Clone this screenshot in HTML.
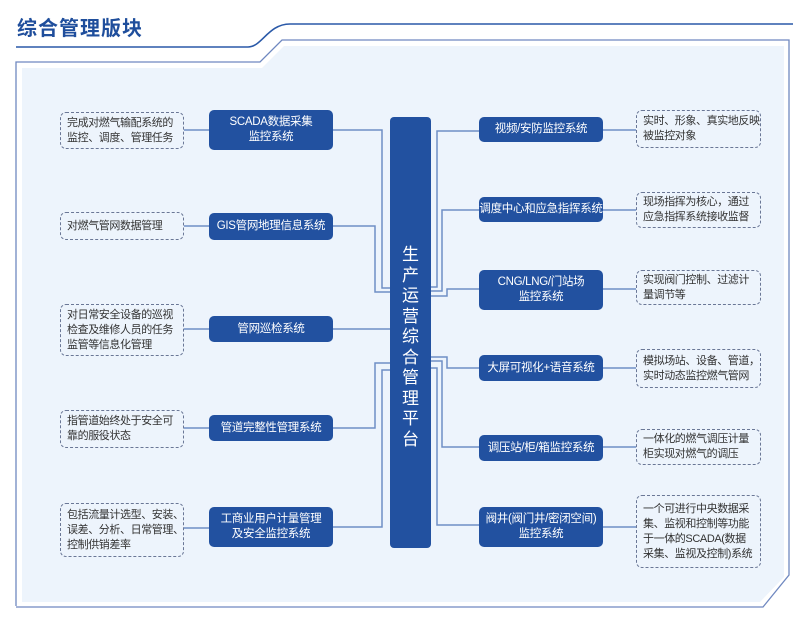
<!DOCTYPE html>
<html><head><meta charset="utf-8"><style>
*{margin:0;padding:0;box-sizing:border-box}
body{width:800px;height:620px;background:#fff;position:relative;overflow:hidden;font-family:"Liberation Sans","Noto Sans CJK SC",sans-serif}
.t{position:absolute;left:17px;top:12px;font-size:20px;font-weight:bold;color:#1f4e9c;letter-spacing:1px}
.n{position:absolute;background:#2251a0;color:#fff;border-radius:5px;font-size:11.5px;line-height:15px;display:flex;align-items:center;justify-content:center;text-align:center;white-space:nowrap;letter-spacing:-0.3px}
.d{position:absolute;border:1.3px dashed #6a7796;border-radius:6px;font-size:11px;line-height:15px;color:#333;padding:0 0 0 6px;display:flex;align-items:center;white-space:nowrap;letter-spacing:-0.4px}
.bar{position:absolute;left:390px;top:117px;width:41px;height:431px;background:#2251a0;border-radius:4px;color:#fff;font-size:17px;line-height:20.5px;text-align:center;padding-top:128px}
</style></head><body>
<svg width="800" height="620" style="position:absolute;left:0;top:0">
<path d="M22 68 L262 68 L284 46 L784 46 L784 577 L760 602 L22 602 Z" fill="#edf4fc"/>
<path d="M16 47 L248 47 C262 47 268 24 290 24 L793 24" fill="none" stroke="#2a59a8" stroke-width="1.6"/>
<path d="M16 606 L16 62 L260 62 L282 40 L789 40 L789 575 L763 607 L16 607" fill="none" stroke="#6f88c0" stroke-width="1.3"/>
<g fill="none" stroke="#6f8fc5" stroke-width="1.5">
<path d="M333 130 H382 V288 H390"/>
<path d="M333 226 H375 V292 H390"/>
<path d="M333 329 H390"/>
<path d="M333 428 H375 V363 H390"/>
<path d="M333 527 H382 V370 H390"/>
<path d="M431 287 H437 V131 H479"/>
<path d="M431 291 H442 V210 H479"/>
<path d="M431 296 H447 V289 H479"/>
<path d="M431 357 H447 V368 H479"/>
<path d="M431 361 H442 V447 H479"/>
<path d="M431 368 H437 V525 H479"/>
<path d="M184 130 H209 M184 226 H209 M184 329 H209 M184 428 H209 M184 528 H209"/>
<path d="M603 130 H636 M603 210 H636 M603 289 H636 M603 368 H636 M603 447 H636 M603 527 H636"/>
</g>
</svg>
<div class="t">综合管理版块</div>
<div class="bar">生<br>产<br>运<br>营<br>综<br>合<br>管<br>理<br>平<br>台</div>

<div class="n" style="left:209px;top:110px;width:124px;height:40px">SCADA数据采集<br>监控系统</div>
<div class="n" style="left:209px;top:213px;width:124px;height:27px">GIS管网地理信息系统</div>
<div class="n" style="left:209px;top:316px;width:124px;height:26px">管网巡检系统</div>
<div class="n" style="left:209px;top:415px;width:124px;height:26px">管道完整性管理系统</div>
<div class="n" style="left:209px;top:507px;width:124px;height:40px">工商业用户计量管理<br>及安全监控系统</div>

<div class="d" style="left:60px;top:112px;width:124px;height:37px">完成对燃气输配系统的<br>监控、调度、管理任务</div>
<div class="d" style="left:60px;top:212px;width:124px;height:28px">对燃气管网数据管理</div>
<div class="d" style="left:60px;top:304px;width:124px;height:52px">对日常安全设备的巡视<br>检查及维修人员的任务<br>监管等信息化管理</div>
<div class="d" style="left:60px;top:410px;width:124px;height:38px">指管道始终处于安全可<br>靠的服役状态</div>
<div class="d" style="left:60px;top:503px;width:124px;height:54px">包括流量计选型、安装、<br>误差、分析、日常管理、<br>控制供销差率</div>

<div class="n" style="left:479px;top:117px;width:124px;height:25px">视频/安防监控系统</div>
<div class="n" style="left:479px;top:197px;width:124px;height:25px">调度中心和应急指挥系统</div>
<div class="n" style="left:479px;top:270px;width:124px;height:40px">CNG/LNG/门站场<br>监控系统</div>
<div class="n" style="left:479px;top:355px;width:124px;height:26px">大屏可视化+语音系统</div>
<div class="n" style="left:479px;top:435px;width:124px;height:26px">调压站/柜/箱监控系统</div>
<div class="n" style="left:479px;top:507px;width:124px;height:40px">阀井(阀门井/密闭空间)<br>监控系统</div>

<div class="d" style="left:636px;top:110px;width:125px;height:38px">实时、形象、真实地反映<br>被监控对象</div>
<div class="d" style="left:636px;top:192px;width:125px;height:36px">现场指挥为核心，通过<br>应急指挥系统接收监督</div>
<div class="d" style="left:636px;top:270px;width:125px;height:35px">实现阀门控制、过滤计<br>量调节等</div>
<div class="d" style="left:636px;top:349px;width:125px;height:39px">模拟场站、设备、管道，<br>实时动态监控燃气管网</div>
<div class="d" style="left:636px;top:429px;width:125px;height:36px">一体化的燃气调压计量<br>柜实现对燃气的调压</div>
<div class="d" style="left:636px;top:495px;width:125px;height:73px">一个可进行中央数据采<br>集、监视和控制等功能<br>于一体的SCADA(数据<br>采集、监视及控制)系统</div>
</body></html>
